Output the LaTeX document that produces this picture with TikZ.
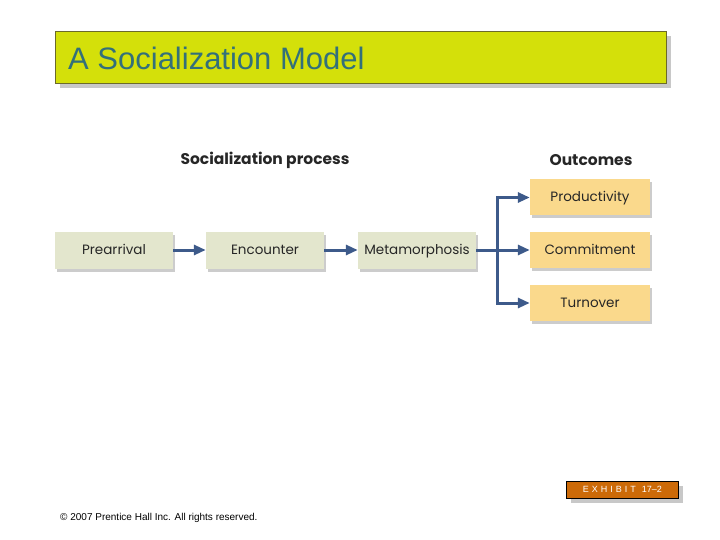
\documentclass[tikz,border=0pt]{standalone}
\usepackage{fontspec}
\setmainfont{Liberation Sans}
\newfontfamily\futura{Poppins}
\usetikzlibrary{arrows.meta,shadows}
\definecolor{titlefill}{HTML}{D4E00A}
\definecolor{titleedge}{HTML}{6B6A2A}
\definecolor{titletext}{HTML}{33707A}
\definecolor{procfill}{HTML}{E3E6CD}
\definecolor{outfill}{HTML}{FAD98C}
\definecolor{arrowblue}{HTML}{3D5A8A}
\definecolor{exfill}{HTML}{CC6A08}
\definecolor{shadowgray}{HTML}{C8C8C8}
\tikzset{
  procbox/.style={draw=none, fill=procfill, minimum width=118pt, minimum height=37pt, inner sep=0pt,
    font=\futura\fontsize{13.5pt}{15pt}\selectfont, text=black!85, text height=1.95ex, text depth=0.3ex,
    drop shadow={shadow xshift=2pt, shadow yshift=-3pt, fill=black!40, opacity=0.5}},
  outbox/.style={procbox, fill=outfill, minimum width=120pt, minimum height=36pt},
  flow/.style={draw=arrowblue, line width=3pt, -{Triangle[length=12pt,width=10pt]}},
  header/.style={font=\futura\bfseries\fontsize{15.5pt}{18pt}\selectfont, text=black!85},
}
\begin{document}
\begin{tikzpicture}[x=1pt,y=-1pt]
\useasboundingbox (0,0) rectangle (720,540);
% title
\fill[shadowgray] (60,36) rectangle (671,88);
\node[draw=titleedge, fill=titlefill, line width=0.8pt, minimum width=611pt, minimum height=52pt, inner sep=0pt, anchor=north west] (title) at (55,31) {};
\node[anchor=west, text=titletext, font=\fontsize{31pt}{36pt}\selectfont, inner sep=0pt] (titletxt) at (68,58) {A Socialization Model};
% headers
\node[header] (h1) at (265,160) {Socialization process};
\node[header] (h2) at (591,160) {Outcomes};
% process boxes
\node[procbox] (pre) at (114,250) {Prearrival};
\node[procbox] (enc) at (265,250) {Encounter};
\node[procbox] (meta) at (417,250) {Metamorphosis};
% outcome boxes
\node[outbox] (prod) at (590,197.5) {Productivity};
\node[outbox] (comm) at (590,250) {Commitment};
\node[outbox] (turn) at (590,303) {Turnover};
% arrows
\draw[flow] (pre) -- (enc);
\draw[flow] (enc) -- (meta);
\coordinate (br) at (497,250);
\draw[draw=arrowblue, line width=3pt] (meta.east) -- (br);
\draw[flow] (br) -- (comm);
\draw[flow] (br |- prod) ++(0,-1.5) |- (prod.west);
\draw[flow] (br |- turn) ++(0,1.5) |- (turn.west);
\draw[draw=arrowblue, line width=3pt] ([yshift=1.5pt]br |- prod) -- ([yshift=-1.5pt]br |- turn);
% exhibit
\fill[shadowgray] (571,486) rectangle (683,503);
\node[draw=black, fill=exfill, line width=0.6pt, minimum width=112pt, minimum height=17pt, inner sep=0pt, anchor=north west, text=white, font=\fontsize{9pt}{10pt}\selectfont] (ex) at (566,481) {E\,\,X\,\,H\,\,I\,\,B\,\,I\,\,T\,\,\,\,17--2};
% copyright
\node[anchor=west, inner sep=0pt, font=\fontsize{10pt}{12pt}\selectfont] (copy) at (60,518) {\textcopyright\ 2007 Prentice Hall Inc. All rights reserved.};
\end{tikzpicture}
\end{document}
